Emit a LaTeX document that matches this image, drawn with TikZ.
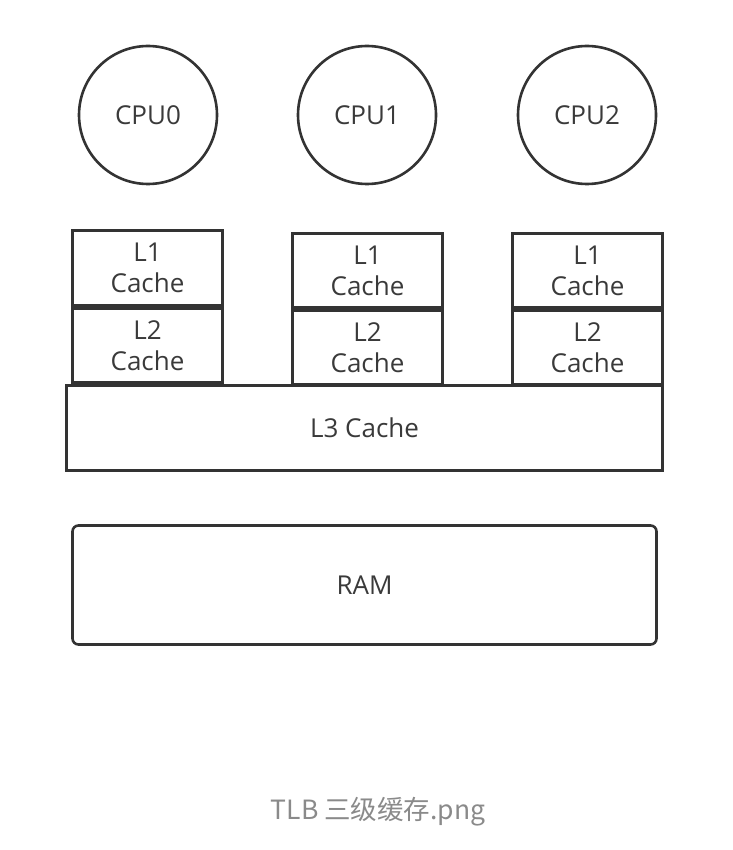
\documentclass[tikz,border=0pt]{standalone}
\usepackage{fontspec}
\setmainfont{Open Sans}
\newfontfamily\cjkfont{Noto Sans CJK SC}
\usepackage{xcolor}
\definecolor{linegray}{HTML}{333333}
\definecolor{textgray}{HTML}{3A3A3A}
\definecolor{captiongray}{HTML}{8A8A8A}
\usetikzlibrary{positioning}

\begin{document}
\begin{tikzpicture}[
        x=1pt, y=-1pt,
        every node/.style={font=\fontsize{26}{31}\selectfont, text=textgray},
        cpu/.style={circle, draw=linegray, line width=2.6pt, minimum size=138pt, inner sep=0pt},
        cachebox/.style={rectangle, draw=linegray, line width=2.6pt, minimum width=150pt, minimum height=#1, inner sep=0pt, align=center},
        bigbox/.style={rectangle, draw=linegray, line width=2.6pt, inner sep=0pt}
    ]
    \useasboundingbox (0,0) rectangle (732,850);
%
    % CPU cores
    \node[cpu] (cpu0) at (148,115) {CPU0};
    \node[cpu] (cpu1) at (367,115) {CPU1};
    \node[cpu] (cpu2) at (587,115) {CPU2};
%
    % private caches
    \node[cachebox=75pt] (lone0) at (147.5,268) {L1\\Cache};
    \node[cachebox=74pt] (ltwo0) at (147.5,345.5) {L2\\Cache};
    \node[cachebox=74pt] (lone1) at (367.5,270.5) {L1\\Cache};
    \node[cachebox=74pt] (ltwo1) at (367.5,347.5) {L2\\Cache};
    \node[cachebox=74pt] (lone2) at (587.5,270.5) {L1\\Cache};
    \node[cachebox=74pt] (ltwo2) at (587.5,347.5) {L2\\Cache};
%
    % shared cache and memory
    \node[bigbox, fill=white, minimum width=596pt, minimum height=85pt] (lthree) at (364.5,428) {L3 Cache};
    \node[bigbox, rounded corners=6pt, minimum width=584pt, minimum height=119pt] (ram) at (364.5,585) {RAM};
%
    \node[font=\cjkfont\fontsize{26.5}{30}\selectfont, text=captiongray] (caption) at (378,812) {TLB 三级缓存.png};
\end{tikzpicture}
\end{document}
